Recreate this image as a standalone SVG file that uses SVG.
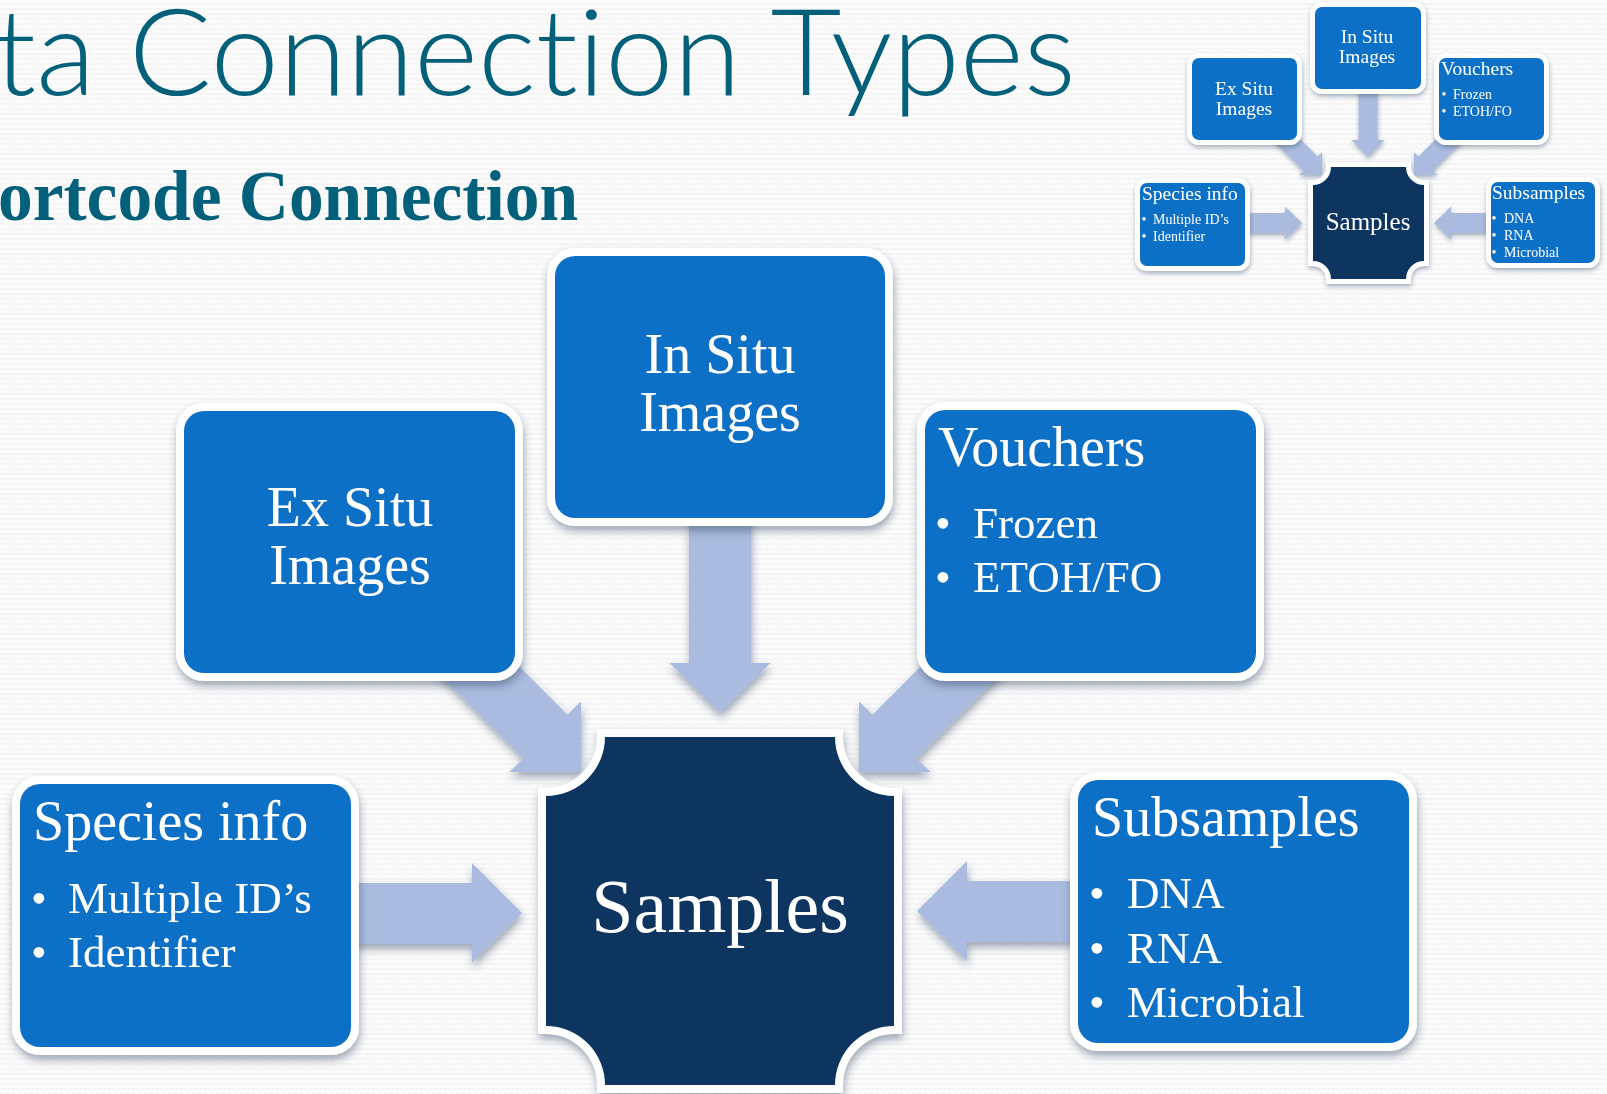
<svg xmlns="http://www.w3.org/2000/svg" width="1607" height="1094" viewBox="0 0 1607 1094">
<defs>
<style>
.box{fill:#1170C7;stroke:#FFFFFF;stroke-width:16;paint-order:stroke}
.mbox{fill:#1170C7;stroke:#FFFFFF;stroke-width:10;paint-order:stroke}
.core{fill:#0A3661;stroke:#FFFFFF;stroke-width:16;paint-order:stroke}
.mcore{fill:#0A3661;stroke:#FFFFFF;stroke-width:10;paint-order:stroke}
.arr{fill:#AABBDF}
.t{font-family:"Liberation Serif","Times New Roman",serif;fill:#FFFFFF}
.h{font-size:56px}
.b{font-size:45px}
.c{text-anchor:middle}
.mh{font-size:19.5px}
.mb{font-size:14px}
.title{font-family:"Lato","Liberation Sans",Arial,sans-serif;font-weight:300;fill:#03607A;font-variant-ligatures:none}
.sub{font-family:"Liberation Serif","Times New Roman",serif;font-weight:bold;fill:#03607A}
</style>
<filter id="sh" x="-20%" y="-20%" width="140%" height="150%">
<feDropShadow dx="1" dy="5" stdDeviation="4" flood-color="#2A3F5F" flood-opacity="0.45"/>
</filter>
<filter id="shs" x="-20%" y="-20%" width="140%" height="150%">
<feDropShadow dx="0.5" dy="2.5" stdDeviation="2" flood-color="#2A3F5F" flood-opacity="0.4"/>
</filter>
<pattern id="bg" width="6" height="5" patternUnits="userSpaceOnUse">
<rect width="6" height="5" fill="#FBFBFB"/>
<path d="M0 4 Q1.5 3 3 4 T6 4" stroke="#EFEFEF" stroke-width="1" fill="none"/>
</pattern>
</defs>
<rect width="1607" height="1094" fill="url(#bg)"/>

<text class="title" x="-6" y="95" font-size="120" textLength="1082" lengthAdjust="spacingAndGlyphs">ta Connection Types</text>
<text class="sub" x="-2" y="220" font-size="72" textLength="580" lengthAdjust="spacingAndGlyphs">ortcode Connection</text>

<g id="connectors" filter="url(#sh)">
<polygon class="arr" points="689,500 751,500 751,663 770.5,663 720,713 669.5,663 689,663"/>
<polygon class="arr" points="340,883 472,883 472,863 522,913 472,963 472,944 340,944"/>
<polygon class="arr" points="1090,881 967,881 967,861 917,911 967,961 967,942 1090,942"/>
<polygon class="arr" points="475.9,623.1 567.5,714.7 581,701.3 581,772 509.3,772 523.7,758.5 432.1,666.9"/>
<polygon class="arr" points="964.1,623.1 872.5,714.7 859,701.3 859,772 930.7,772 916.3,758.5 1007.9,666.9"/>
</g>

<g id="node-ex-situ" filter="url(#sh)">
<rect class="box" x="184" y="411" width="331" height="262" rx="20"/>
<text class="t h c" x="350" y="526">Ex Situ</text>
<text class="t h c" x="350" y="584">Images</text>
</g>

<g id="node-in-situ" filter="url(#sh)">
<rect class="box" x="555" y="256" width="330" height="262" rx="20"/>
<text class="t h c" x="720" y="373">In Situ</text>
<text class="t h c" x="720" y="431">Images</text>
</g>

<g id="node-vouchers" filter="url(#sh)">
<rect class="box" x="925" y="410" width="331" height="263" rx="20"/>
<text class="t h" x="938" y="466">Vouchers</text>
<text class="t b c" x="943" y="538">•</text>
<text class="t b" x="973" y="538">Frozen</text>
<text class="t b c" x="943" y="592">•</text>
<text class="t b" x="973" y="592">ETOH/FO</text>
</g>

<g id="node-species-info" filter="url(#sh)">
<rect class="box" x="20" y="784" width="331" height="263" rx="20"/>
<text class="t h" x="33" y="840">Species info</text>
<text class="t b c" x="39" y="913">•</text>
<text class="t b" x="68" y="913">Multiple ID’s</text>
<text class="t b c" x="39" y="967">•</text>
<text class="t b" x="68" y="967">Identifier</text>
</g>

<g id="node-subsamples" filter="url(#sh)">
<rect class="box" x="1078" y="780" width="331" height="263" rx="20"/>
<text class="t h" x="1092" y="836">Subsamples</text>
<text class="t b c" x="1097" y="908">•</text>
<text class="t b" x="1127" y="908">DNA</text>
<text class="t b c" x="1097" y="963">•</text>
<text class="t b" x="1127" y="963">RNA</text>
<text class="t b c" x="1097" y="1017">•</text>
<text class="t b" x="1127" y="1017">Microbial</text>
</g>

<g id="node-samples" filter="url(#sh)">
<path class="core" d="M605 737 H835 A59 59 0 0 0 894 796 V1026 A59 59 0 0 0 835 1085 H605 A59 59 0 0 0 546 1026 V796 A59 59 0 0 0 605 737 Z"/>
<text class="t c" x="720" y="932" font-size="76">Samples</text>
</g>

<g id="inset">
<g id="inset-connectors" filter="url(#shs)">
<polygon class="arr" points="1358.5,85 1377.5,85 1377.5,140 1384.5,140 1368,157 1351.5,140 1358.5,140"/>
<polygon class="arr" points="1240,213 1285,213 1285,206.5 1302,223 1285,239.5 1285,233 1240,233"/>
<polygon class="arr" points="1496,213 1451,213 1451,206.5 1434,223 1451,239.5 1451,233 1496,233"/>
<polygon class="arr" points="1283.1,121.9 1317.6,156.4 1322,152 1322,175 1299,175 1303.4,170.6 1268.9,136.1"/>
<polygon class="arr" points="1452.9,121.9 1418.4,156.4 1414,152 1414,175 1437,175 1432.6,170.6 1467.1,136.1"/>
</g>
<g id="inset-node-ex-situ" filter="url(#shs)">
<rect class="mbox" x="1192" y="58" width="105" height="82" rx="7"/>
<text class="t mh c" x="1244" y="95">Ex Situ</text>
<text class="t mh c" x="1244" y="115">Images</text>
</g>
<g id="inset-node-in-situ" filter="url(#shs)">
<rect class="mbox" x="1315" y="7" width="106" height="82" rx="7"/>
<text class="t mh c" x="1367" y="43">In Situ</text>
<text class="t mh c" x="1367" y="63">Images</text>
</g>
<g id="inset-node-vouchers" filter="url(#shs)">
<rect class="mbox" x="1439" y="58" width="105" height="82" rx="7"/>
<text class="t mh" x="1441" y="75">Vouchers</text>
<text class="t mb c" x="1444" y="99">•</text>
<text class="t mb" x="1453" y="99">Frozen</text>
<text class="t mb c" x="1444" y="116">•</text>
<text class="t mb" x="1453" y="116">ETOH/FO</text>
</g>
<g id="inset-node-species-info" filter="url(#shs)">
<rect class="mbox" x="1140" y="183" width="105" height="83" rx="7"/>
<text class="t mh" x="1142" y="200">Species info</text>
<text class="t mb c" x="1144" y="224">•</text>
<text class="t mb" x="1153" y="224">Multiple ID’s</text>
<text class="t mb c" x="1144" y="241">•</text>
<text class="t mb" x="1153" y="241">Identifier</text>
</g>
<g id="inset-node-subsamples" filter="url(#shs)">
<rect class="mbox" x="1491" y="182" width="104" height="81" rx="7"/>
<text class="t mh" x="1492" y="199">Subsamples</text>
<text class="t mb c" x="1494" y="223">•</text>
<text class="t mb" x="1504" y="223">DNA</text>
<text class="t mb c" x="1494" y="240">•</text>
<text class="t mb" x="1504" y="240">RNA</text>
<text class="t mb c" x="1494" y="257">•</text>
<text class="t mb" x="1504" y="257">Microbial</text>
</g>
<g id="inset-node-samples" filter="url(#shs)">
<path class="mcore" d="M1331 167 H1406 A18 18 0 0 0 1424 185 V261 A18 18 0 0 0 1406 279 H1331 A18 18 0 0 0 1313 261 V185 A18 18 0 0 0 1331 167 Z"/>
<text class="t c" x="1368" y="230" font-size="25">Samples</text>
</g>
</g>
</svg>
